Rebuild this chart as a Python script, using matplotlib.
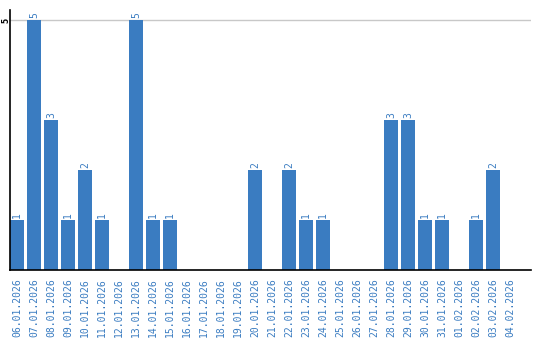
import numpy as np
import matplotlib.pyplot as plt

dates = ["06.01.2026", "07.01.2026", "08.01.2026", "09.01.2026", "10.01.2026",
         "11.01.2026", "12.01.2026", "13.01.2026", "14.01.2026", "15.01.2026",
         "16.01.2026", "17.01.2026", "18.01.2026", "19.01.2026", "20.01.2026",
         "21.01.2026", "22.01.2026", "23.01.2026", "24.01.2026", "25.01.2026",
         "26.01.2026", "27.01.2026", "28.01.2026", "29.01.2026", "30.01.2026",
         "31.01.2026", "01.02.2026", "02.02.2026", "03.02.2026", "04.02.2026"]
counts = [1, 5, 3, 1, 2, 1, 0, 5, 1, 1,
          0, 0, 0, 0, 2, 0, 2, 1, 1, 0,
          0, 0, 3, 3, 1, 1, 0, 1, 2, 0]

blue = "#3a7cc1"


def main():
    fig = plt.figure(figsize=(5.4, 3.4), dpi=100)
    ax = fig.add_axes([10 / 540, 70 / 340, 521 / 540, 260 / 340])

    x = np.arange(len(dates))
    w = 14 / 17
    ax.bar(x, counts, width=w, align="edge", color=blue, zorder=2)

    for xi, c in zip(x, counts):
        if c > 0:
            ax.text(xi + w / 2, c + 0.04, str(c), rotation=90, ha="center", va="bottom",
                    color=blue, fontsize=7, family="DejaVu Sans Mono")

    ax.set_xlim(0, 30.65)
    ax.set_ylim(0, 5.2)
    ax.axhline(5, color="#c8c8c8", lw=1, zorder=1)

    ax.set_xticks(x + w / 2)
    ax.set_xticklabels(dates, rotation=90, color=blue, fontsize=7, family="DejaVu Sans Mono")
    ax.tick_params(axis="x", length=0, pad=6)
    ax.set_yticks([5])
    ax.set_yticklabels(["5"], rotation=90, fontsize=5.5, va="center", fontweight="bold")
    ax.tick_params(axis="y", length=0, pad=0)

    for s in ["top", "right"]:
        ax.spines[s].set_visible(False)
    ax.spines["left"].set_linewidth(1.2)
    ax.spines["bottom"].set_linewidth(1.2)

    fig.savefig("out.png", dpi=100)


if __name__ == "__main__":
    main()
